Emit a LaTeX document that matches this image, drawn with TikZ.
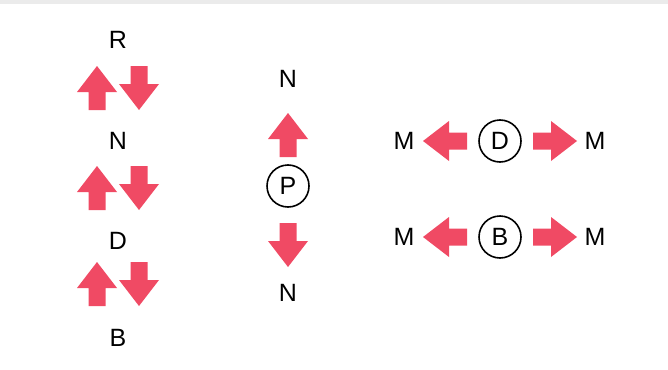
\documentclass[tikz,border=0pt]{standalone}
\usepackage{fontspec}
\setmainfont{Liberation Sans}
\definecolor{arrowred}{RGB}{240,74,100}
\tikzset{
  lbl/.style={inner sep=0pt, font=\fontsize{25}{30}\selectfont},
  ring/.style={draw, circle, line width=1.6pt, minimum size=42pt, inner sep=0pt, font=\fontsize{25}{30}\selectfont},
  blockarrow/.pic={
    \fill[arrowred] (-22,-8.5) -- (-4,-8.5) -- (-4,-20) -- (22,0) -- (-4,20) -- (-4,8.5) -- (-22,8.5) -- cycle;
    \coordinate (-c) at (0,0);
  },
  up/.style={rotate=90},
  down/.style={rotate=-90},
  leftward/.style={rotate=180},
  rightward/.style={rotate=0},
}
\begin{document}
\begin{tikzpicture}[x=1pt,y=-1pt]
\useasboundingbox[fill=white] (0,0) rectangle (668,369);
\fill[black!8] (0,0) rectangle (668,4);
% left column
\node[lbl] (r) at (118,40) {R};
\pic[up] (u1) at (97,88) {blockarrow};
\pic[down] (d1) at (139,88) {blockarrow};
\node[lbl] (n1) at (118,141) {N};
\pic[up] (u2) at (97,188) {blockarrow};
\pic[down] (d2) at (139,188) {blockarrow};
\node[lbl] (dl) at (118,241) {D};
\pic[up] (u3) at (97,284) {blockarrow};
\pic[down] (d3) at (139,284) {blockarrow};
\node[lbl] (b) at (118,338) {B};
% middle column
\node[lbl] (nt) at (288,79) {N};
\pic[up] (pu) at (288,135) {blockarrow};
\node[ring] (p) at (288,186) {P};
\pic[down] (pd) at (288,245) {blockarrow};
\node[lbl] (nb) at (288,293) {N};
% right, top row
\node[lbl] (m1) at (404,141) {M};
\pic[leftward] (la1) at (445,141) {blockarrow};
\node[ring] (dc) at (500,141) {D};
\pic[rightward] (ra1) at (555,141) {blockarrow};
\node[lbl] (m2) at (595,141) {M};
% right, bottom row
\node[lbl] (m3) at (404,237) {M};
\pic[leftward] (la2) at (445,237) {blockarrow};
\node[ring] (bc) at (500,237) {B};
\pic[rightward] (ra2) at (555,237) {blockarrow};
\node[lbl] (m4) at (595,237) {M};
\end{tikzpicture}
\end{document}
